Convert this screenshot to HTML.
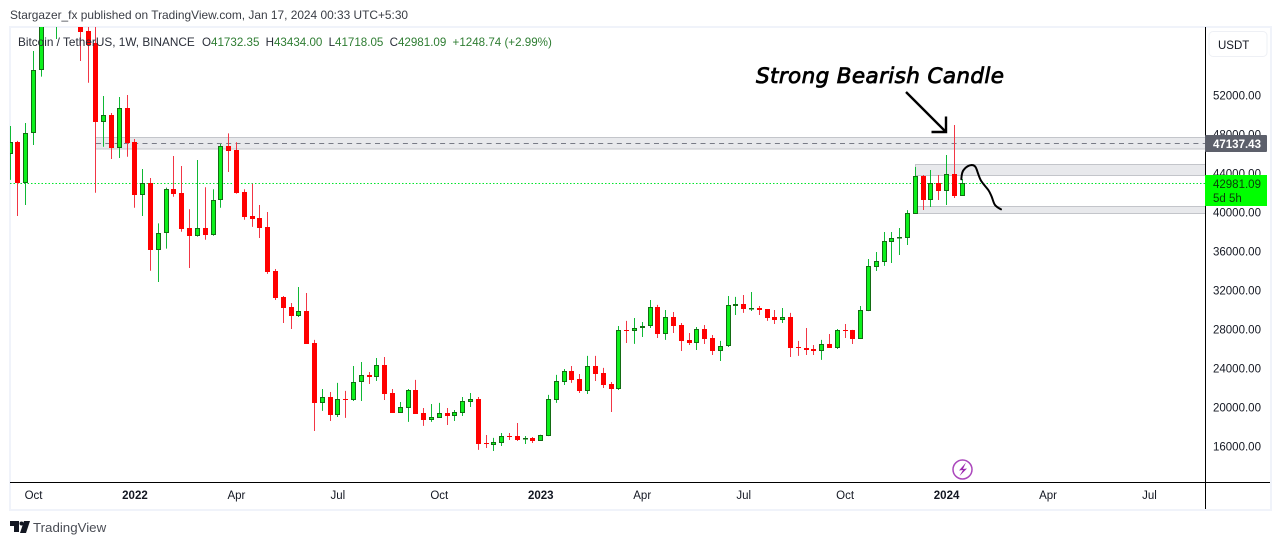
<!DOCTYPE html>
<html lang="en">
<head>
<meta charset="utf-8">
<title>BTCUSDT weekly chart</title>
<style>
html,body{margin:0;padding:0;background:#fff;width:1281px;height:545px;overflow:hidden}
svg{display:block;font-family:"Liberation Sans",sans-serif}
</style>
</head>
<body>
<svg id="chart" width="1281" height="545" viewBox="0 0 1281 545" xmlns="http://www.w3.org/2000/svg">
  <defs><clipPath id="plot-clip"><rect x="10" y="27" width="1195" height="455"/></clipPath></defs>
  <rect width="1281" height="545" fill="#fff"/>
  <text x="10" y="19" font-size="11.9" fill="#3a3d45">Stargazer_fx published on TradingView.com, Jan 17, 2024 00:33 UTC+5:30</text>
  <rect x="10" y="27" width="1261" height="483" fill="#fff" stroke="#f0f3fa" stroke-width="2"/>
  <g id="zones">
    <rect x="95.5" y="137.5" width="1110" height="11.5" fill="#e8e9ec" stroke="#c3c5ca" stroke-width="1"/>
    <line x1="96" x2="1205" y1="143.5" y2="143.5" stroke="#787b86" stroke-width="1" stroke-dasharray="5 4.3"/>
    <rect x="915.5" y="164.5" width="290" height="11" fill="#e8e9ec" stroke="#c3c5ca" stroke-width="1"/>
    <rect x="915.5" y="206.5" width="290" height="7" fill="#e8e9ec" stroke="#c3c5ca" stroke-width="1"/>
  </g>
  <line x1="10" x2="1205" y1="183.5" y2="183.5" stroke="#00e62b" stroke-width="1" stroke-dasharray="1.5 2"/>
  <g id="candles" clip-path="url(#plot-clip)"></g>
  <g id="x-axis"></g>
  <g id="y-axis"></g>
  <line x1="10" x2="1270" y1="482.5" y2="482.5" stroke="#000" stroke-width="1"/>
  <line x1="1205.5" x2="1205.5" y1="27" y2="509" stroke="#000" stroke-width="1"/>
  <rect x="1209" y="31.5" width="58" height="25" rx="4" fill="#fff" stroke="#eef0f5" stroke-width="1"/>
  <text x="1218" y="49" font-size="11.5" fill="#131722">USDT</text>
  <g>
    <rect x="1205" y="135" width="62" height="17" rx="1" fill="#5d606b"/>
    <text x="1213" y="148" font-size="11.5" font-weight="bold" fill="#fff">47137.43</text>
  </g>
  <g>
    <rect x="1205" y="175" width="62" height="31" fill="#00ff00"/>
    <text x="1213" y="188" font-size="11.5" fill="#0a3d0a">42981.09</text>
    <text x="1213" y="202" font-size="11.5" fill="#0a3d0a">5d 5h</text>
  </g>
  <text x="18" y="46" font-size="11.8" fill="#2a2e39">Bitcoin / TetherUS, 1W, BINANCE</text>
  <text x="202" y="46" font-size="11.6" fill="#2e7d32"><tspan fill="#2a2e39">O</tspan>41732.35 <tspan dx="3" fill="#2a2e39">H</tspan>43434.00 <tspan dx="3" fill="#2a2e39">L</tspan>41718.05 <tspan dx="3" fill="#2a2e39">C</tspan>42981.09 <tspan dx="3">+1248.74 (+2.99%)</tspan></text>
  <text x="756" y="83" font-family="'DejaVu Sans',sans-serif" font-size="21.5" font-style="italic" fill="#000" stroke="#000" stroke-width="0.8" textLength="248" lengthAdjust="spacing">Strong Bearish Candle</text>
  <g fill="none" stroke="#000" stroke-width="2.4">
    <path d="M906 92 L946 132"/>
    <path d="M931.5 132 H946 V116.5"/>
  </g>
  <path d="M961.3 179.3 C961.5 175 962 171.5 964 169.5 C966 167 968 165.3 971.7 165 C974 165 975.5 166 976.5 169 C978 173 979.5 179 981.7 181.7 C984 185 986.5 187.5 988.3 190 C990 192.5 990.5 194 991.7 196.7 C993 200 993.5 203 995 205 C996.5 207 998.5 208 1001 209.3" fill="none" stroke="#000" stroke-width="2" stroke-linecap="round"/>
  <g>
    <circle cx="962.5" cy="469.5" r="9.5" fill="#fff" stroke="#ab47bc" stroke-width="1.5"/>
    <path d="M966 462.5 L959 470.5 L963 470 L959.5 476 L967 468.5 L963 469 Z" fill="#9c27b0"/>
  </g>
  <g>
    <path d="M10 521 H19 V532 H14 V526 H10 Z M24 521 H30 L26 533 H20 Z" fill="#131722"/>
    <circle cx="21.5" cy="523.5" r="2" fill="#131722"/>
    <text x="33" y="532" font-size="13.3" fill="#4a4d55">TradingView</text>
  </g>
</svg>
<script>
var opens=[45970,47200,43060,48120,54580,61500,60000,61300,65500,63300,58620,57350,49310,50000,46650,50690,47200,41830,42990,36190,37870,42380,41970,38380,37620,38380,37720,41250,46790,46410,42100,39640,39440,38520,34000,31340,30310,29390,29900,26620,20470,21080,19240,20880,20770,22620,23340,23130,24360,21490,19440,19950,21800,19440,18720,18930,19440,19130,19440,20570,20880,16360,16160,16360,17080,17080,16770,16880,16570,17080,20770,22620,23750,22930,21700,24260,23540,22410,21900,27950,27850,28160,28360,30310,27540,29280,28460,26930,26620,28050,27130,25800,26310,30410,30620,30100,30210,30100,29280,28980,29280,26210,26110,26000,25800,26520,26110,27950,27950,27030,29900,34410,34930,36980,37390,37390,39850,43750,41280,43030,42210,43950,41732.35];
var highs=[48870,47340,49180,56560,62900,67000,63000,69000,67800,66300,60000,59800,51950,50210,51850,52050,47540,44460,43540,38890,42550,45800,44770,40330,45390,42590,42380,47030,48120,47200,42380,42930,40770,40050,34210,31440,30720,32360,31750,26930,21900,21590,22520,21700,24260,24670,23640,25080,25180,21900,20570,21900,22830,19950,20360,20470,19950,19750,21080,21490,21080,17180,16880,17390,17390,18410,17080,16980,17200,21290,23340,23950,24260,23440,25290,25290,24060,22620,28360,28880,29180,28770,31030,30520,30000,29800,28670,27640,28260,28460,27440,26830,31440,31340,31540,31850,30410,30100,30000,30210,29700,26830,28160,26410,26930,27540,28050,28570,27960,30410,35230,35950,38000,38000,38410,40250,44670,43850,44360,43850,45900,48975,43434.00];
var lows=[43340,39640,40770,46920,53930,59500,57800,60000,62000,55540,53310,42030,46750,45490,45590,45720,40490,39640,34030,32870,36290,41620,38030,34310,37520,37210,37620,40490,44150,41930,39260,38520,37390,33700,31030,28670,28050,29280,26510,17590,19650,18620,19030,18930,20670,20670,22410,22720,20770,19440,19440,18520,19340,18110,18520,18930,18210,18620,19130,20050,15650,15850,15540,16050,16670,16570,16260,16360,16560,17070,20470,22310,22520,21490,21390,22720,22000,19540,21800,26620,26520,27230,28160,27130,26930,27640,25800,26410,25900,26510,25390,24770,26200,29490,29700,29900,29490,28880,28570,28670,25180,25290,25390,25390,24880,26100,26000,27130,26510,27020,29890,34000,34520,34820,35640,36670,39840,40260,40570,41280,40770,41490,41718.05];
var closes=[47200,43060,48120,54580,61500,60900,61300,65500,63300,58540,57180,49310,49970,46650,50690,47160,41830,42990,36190,37870,42380,41930,38340,37620,38380,37720,41250,46790,46310,41990,39540,39340,38410,33900,31230,30210,29390,29900,26520,20470,21080,19240,20880,20770,22620,23340,23130,24360,21390,19440,20050,21800,19340,18720,19030,19440,19130,19540,20670,20880,16260,16260,16470,17080,16980,16670,16880,16570,17180,20880,22720,23750,22830,21700,24260,23440,22310,21900,27920,27850,28160,28360,30310,27540,29280,28360,26830,26620,28050,27030,25800,26310,30520,30620,30110,30210,30000,29180,28980,29280,26110,26110,25900,25800,26520,26110,27950,27850,27030,30000,34520,35030,37080,37390,37490,39950,43750,41280,43030,42210,43950,41730,42981.09];
var priceTicks=[52000,48000,44000,40000,36000,32000,28000,24000,20000,16000];
var timeTickLabels=["Oct","2022","Apr","Jul","Oct","2023","Apr","Jul","Oct","2024","Apr","Jul"];
var timeTickWeeks=[3,16,29,42,55,68,81,94,107,120,133,146];
var timeTickMajor=[false,true,false,false,false,true,false,false,false,true,false,false];

var NS="http://www.w3.org/2000/svg";
function xScale(week){return 10.1+7.804*week;}
function yScale(price){return 95.5+(52000-price)*39/4000;}
function make(tag,attrs,parent){
  var el=document.createElementNS(NS,tag);
  for(var k in attrs){el.setAttribute(k,attrs[k]);}
  parent.appendChild(el);
  return el;
}
var candleLayer=document.getElementById("candles");
opens.forEach(function(open,i){
  var up=closes[i]>=open;
  var col=Math.floor(xScale(i));
  var g=make("g",{},candleLayer);
  
  
  var wick=make("line",{x1:col+.5,x2:col+.5,y1:yScale(highs[i]),y2:yScale(lows[i]),stroke:up?"#0fb835":"#f23645","stroke-width":1},g);
  
  
  var top=Math.round(yScale(Math.max(open,closes[i])));
  var bot=Math.round(yScale(Math.min(open,closes[i])));
  var body;
  if(up){
    body=make("rect",{x:col-1.5,y:top+.5,width:4,height:Math.max(bot-top-1,0.5),fill:"#0cf01c",stroke:"#136b13","stroke-width":1},g);
  }else{
    body=make("rect",{x:col-2,y:top,width:5,height:Math.max(bot-top,1),fill:"#ff0000"},g);
  }
  
  
});
var yAxis=document.getElementById("y-axis");
priceTicks.forEach(function(p){
  var t=make("text",{x:1213,y:yScale(p)+4,"font-size":11.5,fill:"#131722"},yAxis);
  
  
  t.textContent=p.toFixed(2);
});
var xAxis=document.getElementById("x-axis");
timeTickLabels.forEach(function(label,i){
  var t=make("text",{x:xScale(timeTickWeeks[i]),y:499,"text-anchor":"middle","font-size":11.5,"font-weight":timeTickMajor[i]?"bold":"normal",fill:"#131722"},xAxis);
  
  
  t.textContent=label;
});
</script>
</body>
</html>
